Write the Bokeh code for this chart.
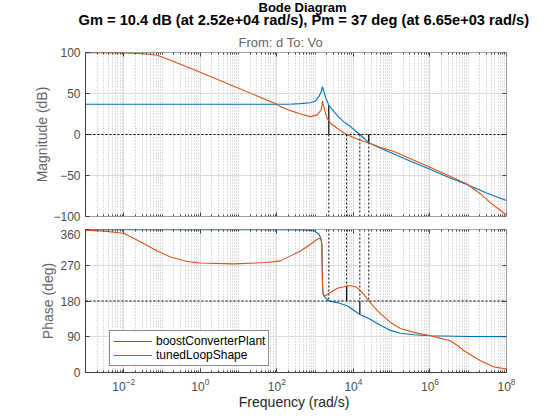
import numpy as np
from bokeh.plotting import figure
from bokeh.models import (LogAxis, LinearAxis, FixedTicker, Legend, LegendItem, Title,
                          CustomJSTickFormatter, LogTickFormatter, Span)
from bokeh.layouts import column
from bokeh.embed import file_html
from bokeh.resources import INLINE

FONT = "Liberation Sans"
BLUE = "#0072BD"
ORANGE = "#D95319"
AXIS_C = "#404040"
TICK_C = "#4d4d4d"
LABEL_C = "#666666"

# ---------------- data ----------------
plant_mag_w = [1e-3, 1e-2, 1e-1, 1, 10, 100, 200, 415, 757, 1023, 1250, 1440, 1500, 1560,
               1620, 1700, 1866, 2148, 2277, 2523, 3090, 4160, 5620, 8400, 14720, 25200,
               5e4, 1e5, 3e5, 1e6, 3e6, 1e7, 3e7, 1e8]
plant_mag_db = [36.8, 36.8, 36.8, 36.8, 36.8, 36.8, 36.9, 37.6, 38.8, 40.9, 46.1, 52.0, 56.0, 58.2,
                55.5, 52.0, 45.5, 38.8, 35.5, 33.2, 27.9, 21.1, 15.4, 9.7, 0.0, -10.0,
                -16.5, -22.7, -32.2, -42.5, -52.0, -61.5, -71.3, -80.5]

loop_mag_w = [1e-3, 1e-2, 0.033, 0.075, 0.166, 1, 10, 100, 124, 227, 415, 757, 1133, 1440,
              1500, 1560, 1620, 1700, 1866, 2050, 2523, 3780, 5623, 6650, 13870, 25200,
              5e4, 1.1e5, 1.04e6, 9.3e6, 2.1e7, 3.83e7, 7e7, 1e8]
loop_mag_db = [99.9, 99.6, 98.5, 96.7, 90.6, 76.0, 56.5, 36.9, 34.0, 29.1, 25.1, 21.8, 23.9, 30.0,
               35.0, 41.0, 37.0, 33.0, 26.0, 19.9, 13.8, 7.7, 2.0, 0.0, -6.5, -10.4,
               -15.5, -20.5, -40.1, -60.3, -72.5, -83.4, -92.7, -98.4]

plant_ph_w = [1e-3, 1e-1, 10, 100, 500, 925, 1270, 1440, 1500, 1530, 1560, 1600, 1700, 1866,
              2277, 3780, 6890, 14720, 25300, 5.1e4, 9.3e4, 1.7e5, 3.8e5, 1.04e6, 1e7, 1e8]
plant_ph_deg = [359.5, 359.5, 359.5, 359.5, 359.0, 357.0, 348.0, 335.0, 320.0, 270.0, 220.0, 200.0,
                192.0, 188.0, 180.0, 176.0, 168.0, 146.0, 136.0, 119.0, 106.0, 99.0, 95.0, 92.5,
                90.8, 90.3]

loop_ph_w = [1e-3, 3e-3, 1e-2, 0.033, 0.075, 0.166, 0.45, 1, 7.5, 55, 124, 227, 415, 757, 1133,
             1340, 1440, 1500, 1530, 1560, 1600, 1698, 1866, 2277, 3780, 6650, 8000, 1.14e4,
             1.39e4, 1.87e4, 2.52e4, 4.6e4, 9.3e4, 1.7e5, 3.8e5, 7.1e5, 1.04e6, 1.8e6, 3.4e6,
             5.6e6, 7.7e6, 2.1e7, 4.6e7, 1e8]
loop_ph_deg = [358.5, 356.0, 350.7, 325.0, 306.0, 291.0, 279.5, 275.5, 273.5, 277.0, 281.0, 293.6,
               306.0, 323.0, 335.6, 338.0, 333.0, 318.0, 268.0, 218.0, 200.0, 195.0, 193.0, 199.0,
               212.0, 217.0, 219.0, 216.0, 210.0, 197.0, 180.0, 152.0, 126.0, 111.0, 101.0, 95.8,
               92.4, 86.5, 79.8, 66.0, 54.6, 29.4, 14.4, 8.6]

# stability margins (gain margins: freq + magnitude; phase margins: freq + phase)
gm_w = [2277, 25200]
gm_db = [35.5, -10.4]
pm_w = [6650, 14720]
pm_deg = [217.0, 146.0]
margin_w = gm_w + pm_w

x_major = [1e-2, 1e0, 1e2, 1e4, 1e6, 1e8]
x_minor = [m * 10.0 ** k for k in range(-3, 8) for m in range(1, 10)
           if not (m == 1 and k % 2 == 0)]
mag_ticks = [-100, -50, 0, 50, 100]
ph_ticks = [0, 90, 180, 270, 360]

title1 = "Bode Diagram"
title2 = "Gm = 10.4 dB (at 2.52e+04 rad/s),  Pm = 37 deg (at 6.65e+03 rad/s)"
io_label = "From: d  To: Vo"

XR = (1e-3, 1e8)
FW = 421
blank = CustomJSTickFormatter(code="return ''")


def style_left(ax, yticks):
    ax.ticker = FixedTicker(ticks=yticks, minor_ticks=[])
    ax.major_tick_in = 4
    ax.major_tick_out = 0
    ax.minor_tick_in = 0
    ax.minor_tick_out = 0
    ax.axis_line_color = AXIS_C
    ax.major_tick_line_color = AXIS_C
    ax.major_label_text_font = FONT
    ax.major_label_text_font_size = "12px"
    ax.major_label_text_color = TICK_C
    ax.axis_label_text_font = FONT
    ax.axis_label_text_font_size = "14px"
    ax.axis_label_text_font_style = "normal"
    ax.axis_label_text_color = LABEL_C


def style_bottom_xaxis(ax, labels):
    ax.ticker = FixedTicker(ticks=x_major, minor_ticks=x_minor)
    ax.major_tick_in = 4
    ax.major_tick_out = 0
    ax.minor_tick_in = 2
    ax.minor_tick_out = 0
    ax.axis_line_color = AXIS_C
    ax.major_tick_line_color = AXIS_C
    ax.minor_tick_line_color = AXIS_C
    if labels:
        ax.formatter = LogTickFormatter()
        ax.major_label_text_font = FONT
        ax.major_label_text_font_size = "12px"
        ax.major_label_text_color = TICK_C
        ax.major_label_standoff = 5
    else:
        ax.formatter = blank


def add_mirrors_and_grid(p, yticks, yhigh):
    right = LinearAxis(fixed_location=XR[1], ticker=FixedTicker(ticks=yticks, minor_ticks=[]),
                       formatter=blank, major_tick_in=4, major_tick_out=0,
                       minor_tick_in=0, minor_tick_out=0,
                       axis_line_color=AXIS_C, major_tick_line_color=AXIS_C)
    p.add_layout(right, "right")
    top = LogAxis(fixed_location=yhigh, ticker=FixedTicker(ticks=x_major, minor_ticks=x_minor),
                  formatter=blank, major_tick_in=4, major_tick_out=0,
                  minor_tick_in=2, minor_tick_out=0,
                  axis_line_color=AXIS_C, major_tick_line_color=AXIS_C,
                  minor_tick_line_color=AXIS_C)
    p.add_layout(top, "above")
    p.xgrid.ticker = FixedTicker(ticks=x_major, minor_ticks=x_minor)
    p.xgrid.grid_line_color = "#dcdcdc"
    p.xgrid.minor_grid_line_color = "#bdbdbd"
    p.xgrid.minor_grid_line_dash = "1 2"
    p.ygrid.ticker = FixedTicker(ticks=yticks, minor_ticks=[])
    p.ygrid.grid_line_color = "#dcdcdc"
    p.outline_line_color = None


# ---------------- magnitude plot ----------------
p1 = figure(x_axis_type="log", x_range=XR, y_range=(-100, 100),
            frame_width=FW, frame_height=164,
            min_border_left=85, min_border_right=54, min_border_top=52, min_border_bottom=13,
            output_backend="svg", toolbar_location=None, title=None)
p1.left[0].axis_label = "Magnitude (dB)"
p1.left[0].axis_label_standoff = 0
style_left(p1.left[0], mag_ticks)
p1.below[0].fixed_location = -100
style_bottom_xaxis(p1.below[0], False)
add_mirrors_and_grid(p1, mag_ticks, 100)

p1.add_layout(Title(text=io_label, align="left", offset=153, text_font=FONT,
                    text_font_size="13px", text_font_style="normal", text_color=LABEL_C,
                    standoff=5), "above")
p1.add_layout(Title(text=title2, align="left", offset=-7, text_font=FONT,
                    text_font_size="14.67px", text_font_style="bold", text_color="black",
                    standoff=5), "above")
p1.add_layout(Title(text=title1, align="left", offset=173, text_font=FONT,
                    text_font_size="13px", text_font_style="bold", text_color="black",
                    standoff=-14), "above")

p1.add_layout(Span(location=0, dimension="width", line_color="black",
                   line_dash="2 2", line_width=1))
p1.segment(x0=margin_w, y0=[-100] * len(margin_w), x1=margin_w, y1=[0] * len(margin_w),
           line_color="black", line_dash="2 2", line_width=1)
p1.segment(x0=gm_w, y0=[0] * len(gm_w), x1=gm_w, y1=gm_db, line_color="black", line_width=1.2)

p1.line(plant_mag_w, plant_mag_db, line_color=BLUE, line_width=1.1)
p1.line(loop_mag_w, loop_mag_db, line_color=ORANGE, line_width=1.1)

# ---------------- phase plot ----------------
p2 = figure(x_axis_type="log", x_range=p1.x_range, y_range=(0, 360),
            frame_width=FW, frame_height=143,
            min_border_left=85, min_border_right=54, min_border_top=0, min_border_bottom=46,
            output_backend="svg", toolbar_location=None, title=None)
p2.left[0].axis_label = "Phase (deg)"
p2.left[0].axis_label_standoff = 1
style_left(p2.left[0], ph_ticks)
style_bottom_xaxis(p2.below[0], True)
p2.below[0].axis_label = "Frequency  (rad/s)"
p2.below[0].axis_label_text_font = FONT
p2.below[0].axis_label_text_font_size = "14px"
p2.below[0].axis_label_text_font_style = "normal"
p2.below[0].axis_label_text_color = "#262626"
p2.below[0].axis_label_standoff = 0
add_mirrors_and_grid(p2, ph_ticks, 360)

p2.add_layout(Span(location=180, dimension="width", line_color="black",
                   line_dash="2 2", line_width=1))
p2.segment(x0=margin_w, y0=[360] * len(margin_w), x1=margin_w, y1=[180] * len(margin_w),
           line_color="black", line_dash="2 2", line_width=1)
p2.segment(x0=pm_w, y0=[180] * len(pm_w), x1=pm_w, y1=pm_deg, line_color="black", line_width=1.2)

r_plant = p2.line(plant_ph_w, plant_ph_deg, line_color=BLUE, line_width=1.1)
r_loop = p2.line(loop_ph_w, loop_ph_deg, line_color=ORANGE, line_width=1.1)

legend = Legend(items=[LegendItem(label="boostConverterPlant", renderers=[r_plant]),
                       LegendItem(label="tunedLoopShape", renderers=[r_loop])],
                location=(24, 6), margin=0, padding=3, spacing=0,
                glyph_width=39, glyph_height=14, label_height=14, label_standoff=4,
                label_text_font=FONT, label_text_font_size="12px", label_text_color="black",
                border_line_color="#262626", border_line_width=1,
                background_fill_color="white", background_fill_alpha=1.0)
p2.add_layout(legend, "center")

layout = column(p1, p2, spacing=0)
open("out.html", "w").write(file_html(layout, INLINE))
